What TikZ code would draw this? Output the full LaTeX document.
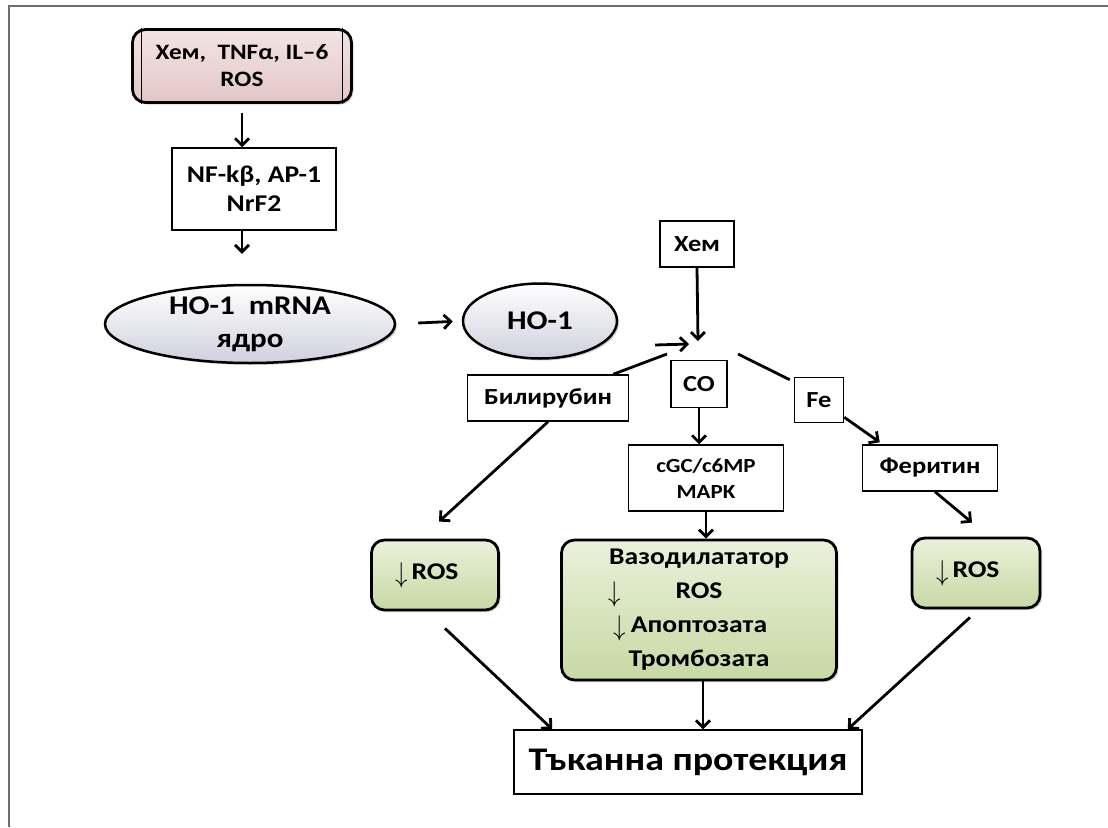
\documentclass[tikz,border=0pt]{standalone}
\usepackage{fontspec}
\setmainfont{Carlito}[FakeStretch=1.15]
\usetikzlibrary{arrows.meta,shapes.geometric,shadows}
\definecolor{pinktop}{RGB}{244,228,228}
\definecolor{pinkbot}{RGB}{226,198,198}
\definecolor{greentop}{RGB}{234,241,218}
\definecolor{greenbot}{RGB}{200,216,164}
\definecolor{ovalbot}{RGB}{208,208,222}
\definecolor{framegray}{RGB}{110,110,110}
\newcommand{\dn}{\mdseries\raisebox{-3pt}{\scalebox{1}[1.15]{$\downarrow$}}}

\tikzset{
  lbl/.style={font=\bfseries\fontsize{23}{28}\selectfont, align=center, inner sep=0pt},
  plainbox/.style={lbl, draw, line width=1.5pt, fill=white},
  softbox/.style={lbl, draw, line width=2.8pt, rounded corners=13pt,
    font=\bfseries\fontsize{24}{34}\selectfont,
    top color=greentop, bottom color=greenbot,
    drop shadow={shadow xshift=2pt, shadow yshift=-2pt, opacity=.35}},
  oval/.style={lbl, ellipse, draw, line width=2.5pt, top color=white, bottom color=ovalbot,
    font=\bfseries\fontsize{27}{33}\selectfont,
    drop shadow={shadow xshift=2pt, shadow yshift=-2pt, opacity=.35}},
}

\begin{document}
\begin{tikzpicture}[x=1pt,y=-1pt,>={Straight Barb[length=7pt,width=14pt]},line width=2.8pt]
\useasboundingbox (0,0) rectangle (1108,827);
\draw[framegray,line width=2pt] (9,827) -- (9,6) -- (1108,6);

% upper chain
\node[lbl, font=\bfseries\fontsize{22}{27}\selectfont, draw, line width=2.8pt, rounded corners=13pt,
  top color=pinktop, bottom color=pinkbot, minimum width=219pt, minimum height=73pt,
  drop shadow={shadow xshift=2pt, shadow yshift=-2pt, opacity=.35}]
  (src) at (242,66) {Хем,\ \ TNFα, IL–6\\ROS};
\draw[line width=1pt] ([xshift=10pt]src.north west) -- ([xshift=10pt]src.south west);
\draw[line width=1pt] ([xshift=-10pt]src.north east) -- ([xshift=-10pt]src.south east);
\node[plainbox, font=\bfseries\fontsize{24}{29}\selectfont, minimum width=164pt, minimum height=82pt]
  (nfk) at (254,189) {NF-kβ, AP-1\\NrF2};
\node[oval, minimum width=290pt, minimum height=78pt] (mrna) at (250,324) {HO-1\ \ mRNA\\ядро};
\node[oval, minimum width=154pt, minimum height=75pt] (ho1) at (540,321) {HO-1};

\draw[->, shorten <=9pt] (src.south) -- (src.south |- nfk.north);
\draw[->, shorten >=30pt] (src.south |- nfk.south) -- (src.south |- mrna.north);
\draw[->, shorten <=22pt, shorten >=9pt] (mrna.east) -- (ho1.west);

% heme breakdown
\node[plainbox, minimum width=74pt, minimum height=46pt] (hem) at (697,244) {Хем};
\node[plainbox, minimum width=161pt, minimum height=46pt] (bili) at (548,398) {Билирубин};
\node[plainbox, minimum width=56pt, minimum height=47pt] (co) at (699,384) {CO};
\node[plainbox, minimum width=49pt, minimum height=45pt] (fe) at (819,400) {Fe};
\node[plainbox, font=\bfseries\fontsize{20}{26}\selectfont, minimum width=155pt, minimum height=66pt]
  (cgc) at (706,478) {cGC/c6MP\\MAPK};
\node[plainbox, minimum width=135pt, minimum height=46pt] (feri) at (930,468) {Феритин};

\coordinate (rx) at (698,341);
\coordinate (hin) at (655,345);
\coordinate (hout) at (689,344);
\coordinate (bl) at (667,354);
\coordinate (fl) at (738,354);

\draw[->] (hem.south) -- (rx);
\draw[->] (hin) -- (hout);
\draw ([xshift=-16pt]bili.north east) -- (bl);
\draw (fl) -- ([xshift=-4pt,yshift=-3pt]fe.north west);
\draw[->] (co.south) -- (co.south |- cgc.north);
\draw[->] ([yshift=6pt]fe.south east) -- ([xshift=18pt,yshift=2pt]feri.north west);

% effects
\node[softbox, minimum width=127pt, minimum height=70pt] (rosL) at (435,575)
  {\llap{\dn\,}ROS};
\node[softbox, minimum width=275pt, minimum height=140pt] (vaso) at (699,610)
  {Вазодилататор\\\llap{\dn\hspace{55pt}}ROS\\
   \llap{\dn\hspace{5pt}}Апоптозата\\Тромбозата};
\node[softbox, minimum width=128pt, minimum height=70pt] (rosR) at (976,573)
  {\llap{\dn\,}ROS};
\node[plainbox, font=\bfseries\fontsize{33}{38}\selectfont, minimum width=348pt, minimum height=64pt]
  (prot) at (688,762) {Тъканна протекция};

\draw[->] (bili.south) -- ([xshift=4pt,yshift=17pt]rosL.north);
\draw[->] (cgc.south) -- (cgc.south |- vaso.north);
\draw[->] ([xshift=5pt]feri.south) -- ([xshift=-4pt,yshift=14pt]rosR.north);
\draw[->] ([xshift=10pt,yshift=-17pt]rosL.south) -- ([xshift=39pt]prot.north west);
\draw[->] ([xshift=4pt]vaso.south) -- ([xshift=4pt]vaso.south |- prot.north);
\draw[->] ([xshift=-6pt,yshift=-8pt]rosR.south) -- ([xshift=-15pt]prot.north east);
\end{tikzpicture}
\end{document}
